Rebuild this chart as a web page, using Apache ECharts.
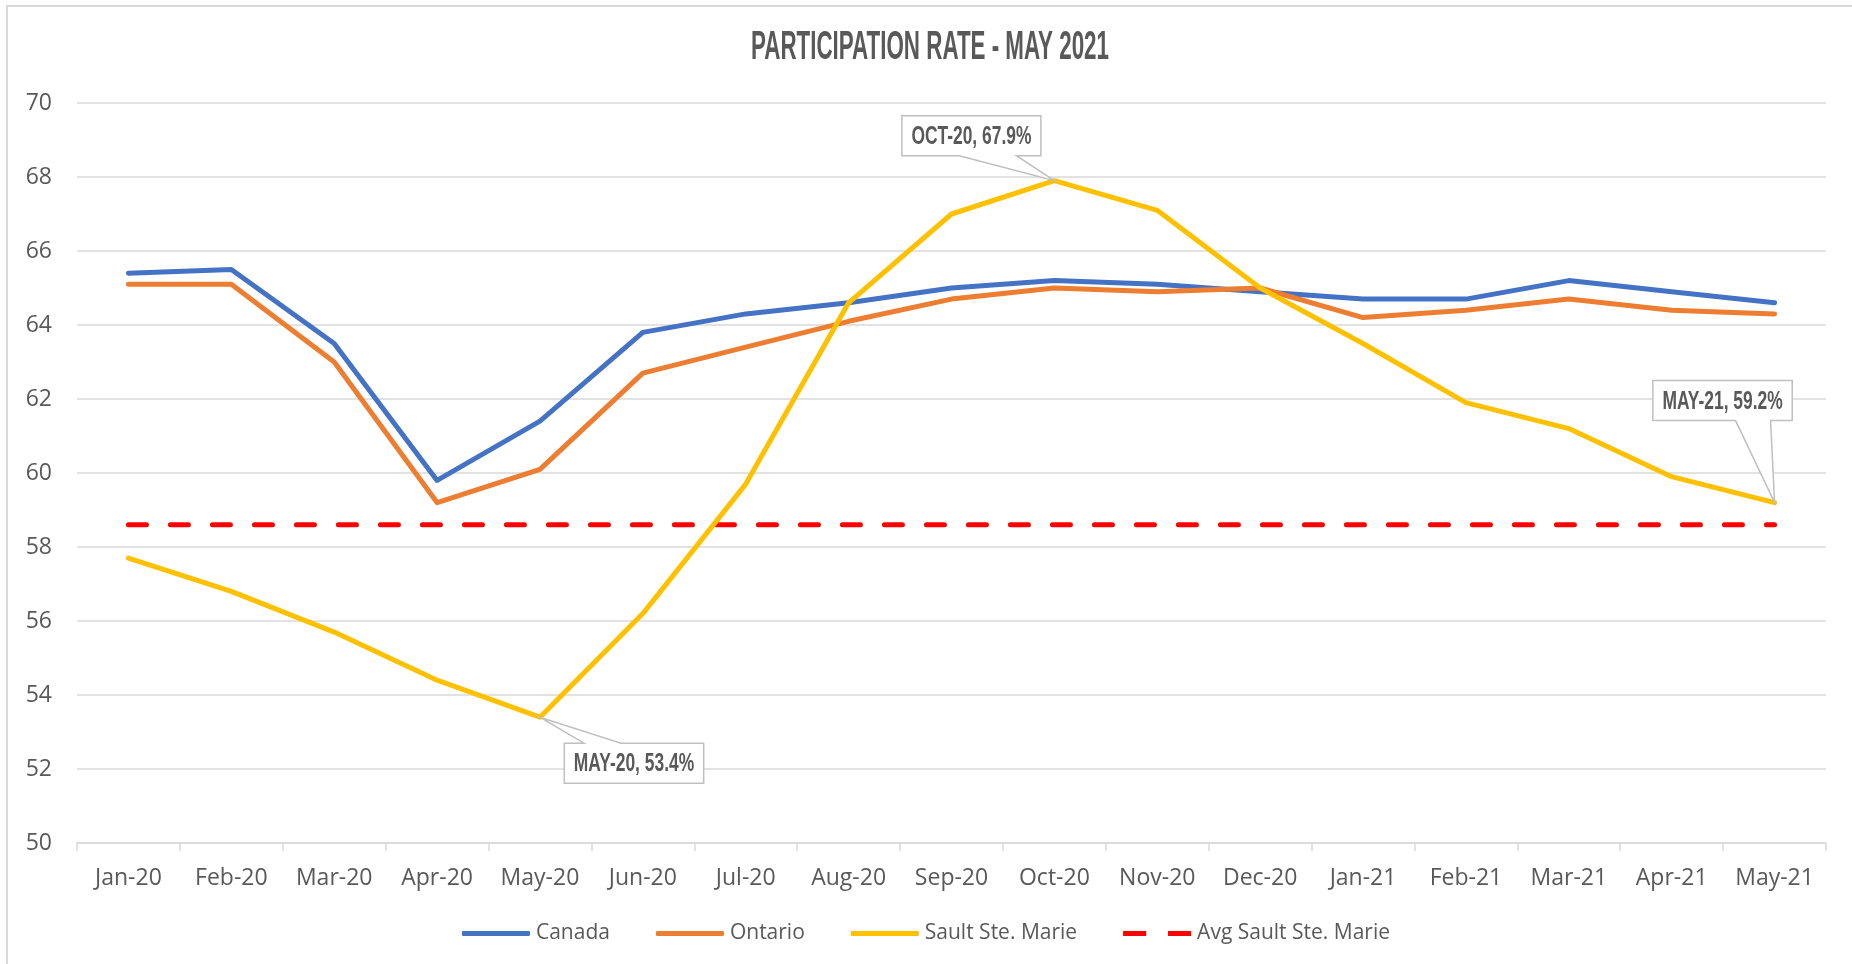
<!DOCTYPE html>
<html>
<head>
<meta charset="utf-8">
<script src="https://cdn.jsdelivr.net/npm/echarts@6/dist/echarts.min.js"></script>
<style>html,body{margin:0;padding:0;background:#fff;}#c{width:1852px;height:964px;}</style>
</head>
<body>
<div id="c"></div>
<script>
const categories = ['Jan-20','Feb-20','Mar-20','Apr-20','May-20','Jun-20','Jul-20','Aug-20','Sep-20','Oct-20','Nov-20','Dec-20','Jan-21','Feb-21','Mar-21','Apr-21','May-21'];
const canada = [65.4,65.5,63.5,59.8,61.4,63.8,64.3,64.6,65.0,65.2,65.1,64.9,64.7,64.7,65.2,64.9,64.6];
const ontario = [65.1,65.1,63.0,59.2,60.1,62.7,63.4,64.1,64.7,65.0,64.9,65.0,64.2,64.4,64.7,64.4,64.3];
const sault = [57.7,56.8,55.7,54.4,53.4,56.2,59.7,64.6,67.0,67.9,67.1,65.0,63.5,61.9,61.2,59.9,59.2];
const avgSault = [58.6,58.6,58.6,58.6,58.6,58.6,58.6,58.6,58.6,58.6,58.6,58.6,58.6,58.6,58.6,58.6,58.6];
const calloutIdx = [4, 9, 16];
const titleText = 'PARTICIPATION RATE - MAY 2021';

// callout layout (box offset from point, wedge side and wedge base relative to box centre)
const calloutLayout = {
  4: {dx: 94, dy: 46, side: 'top', base: [-50, -13]},
  9: {dx: -83, dy: -45, side: 'bottom', base: [-12, 45]},
  16: {dx: -52, dy: -102, side: 'bottom', base: [13, 48]}
};

const grey = '#595959';
const boldFont = (size) => 'bold ' + size + 'px "Liberation Sans", Arial, sans-serif';
const measureCtx = document.createElement('canvas').getContext('2d');
function measure(text, font) { measureCtx.font = font; return measureCtx.measureText(text).width; }

const titleFont = boldFont(40);
const titleScale = 358 / measure(titleText, titleFont);
const calloutFont = boldFont(26);
const calloutScale = 120 / measure('OCT-20, 67.9%', calloutFont);

const calloutData = calloutIdx.map(i => [i, sault[i]]);

function renderCallout(params, api) {
  const i = api.value(0);
  const v = api.value(1);
  const pt = api.coord([i, v]);
  const L = calloutLayout[i];
  const text = categories[i].toUpperCase() + ', ' + v.toFixed(1) + '%';
  const tw = measure(text, calloutFont) * calloutScale;
  const w = tw + 19, h = 40;
  const cx = pt[0] + L.dx, cy = pt[1] + L.dy;
  const l = cx - w / 2, r = cx + w / 2, t = cy - h / 2, b = cy + h / 2;
  const b1 = cx + L.base[0], b2 = cx + L.base[1];
  let pts;
  if (L.side === 'bottom') {
    pts = [[l, t], [r, t], [r, b], [b2, b], pt, [b1, b], [l, b]];
  } else {
    pts = [[l, t], [b1, t], pt, [b2, t], [r, t], [r, b], [l, b]];
  }
  return {
    type: 'group',
    children: [
      {type: 'polygon', shape: {points: pts}, style: {fill: '#fff', stroke: '#bfbfbf', lineWidth: 1.5}},
      {type: 'text', x: cx, y: cy + 1, scaleX: calloutScale,
        style: {text: text, font: calloutFont, fill: grey, align: 'center', verticalAlign: 'middle'}}
    ]
  };
}

const chart = echarts.init(document.getElementById('c'), null, {renderer: 'canvas'});

chart.setOption({
  animation: false,
  graphic: [
    {type: 'line', shape: {x1: 7, y1: 6, x2: 7, y2: 964}, style: {stroke: '#d9d9d9', lineWidth: 2}},
    {type: 'line', shape: {x1: 6, y1: 6, x2: 1852, y2: 6}, style: {stroke: '#d9d9d9', lineWidth: 2}},
    {type: 'text', x: 930, y: 48, scaleX: titleScale,
      style: {text: titleText, font: titleFont, fill: grey, align: 'center', verticalAlign: 'middle'}}
  ],
  grid: {left: 77, right: 26, top: 103, bottom: 121},
  legend: {
    bottom: 15,
    left: 'center',
    itemWidth: 68,
    itemHeight: 5,
    itemGap: 46,
    symbolKeepAspect: false,
    textStyle: {fontFamily: '"Open Sans", sans-serif', fontSize: 21, color: grey, padding: [0, 0, 0, 1]},
    data: [
      {name: 'Canada', icon: 'roundRect'},
      {name: 'Ontario', icon: 'roundRect'},
      {name: 'Sault Ste. Marie', icon: 'roundRect'},
      {name: 'Avg Sault Ste. Marie', icon: 'path://M0,0h19v5h-19zM37,0h19v5h-19z'}
    ]
  },
  xAxis: {
    type: 'category',
    data: categories,
    boundaryGap: true,
    axisLine: {lineStyle: {color: '#d9d9d9', width: 1.5}},
    axisTick: {show: true, length: 8, lineStyle: {color: '#d9d9d9', width: 1.5}},
    axisLabel: {fontFamily: '"Open Sans", sans-serif', fontSize: 23, color: grey, margin: 24}
  },
  yAxis: {
    type: 'value',
    min: 50,
    max: 70,
    interval: 2,
    axisLine: {show: false},
    axisTick: {show: false},
    splitLine: {lineStyle: {color: '#d9d9d9', width: 1.5}},
    axisLabel: {fontFamily: '"Open Sans", sans-serif', fontSize: 23, color: grey, margin: 25}
  },
  series: [
    {name: 'Avg Sault Ste. Marie', type: 'line', data: avgSault, symbol: 'none', z: 1,
      lineStyle: {color: '#FF0000', width: 5, type: [18, 24], cap: 'round'}, itemStyle: {color: '#FF0000'}},
    {name: 'Canada', type: 'line', data: canada, symbol: 'none', z: 2,
      lineStyle: {color: '#4472C4', width: 5, cap: 'round', join: 'round'}, itemStyle: {color: '#4472C4'}},
    {name: 'Ontario', type: 'line', data: ontario, symbol: 'none', z: 3,
      lineStyle: {color: '#ED7D31', width: 5, cap: 'round', join: 'round'}, itemStyle: {color: '#ED7D31'}},
    {name: 'Sault Ste. Marie', type: 'line', data: sault, symbol: 'none', z: 4,
      lineStyle: {color: '#FFC000', width: 5, cap: 'round', join: 'round'}, itemStyle: {color: '#FFC000'}},
    {name: 'callouts', type: 'custom', coordinateSystem: 'cartesian2d', data: calloutData, z: 10,
      renderItem: renderCallout, silent: true}
  ]
});
</script>
</body>
</html>
